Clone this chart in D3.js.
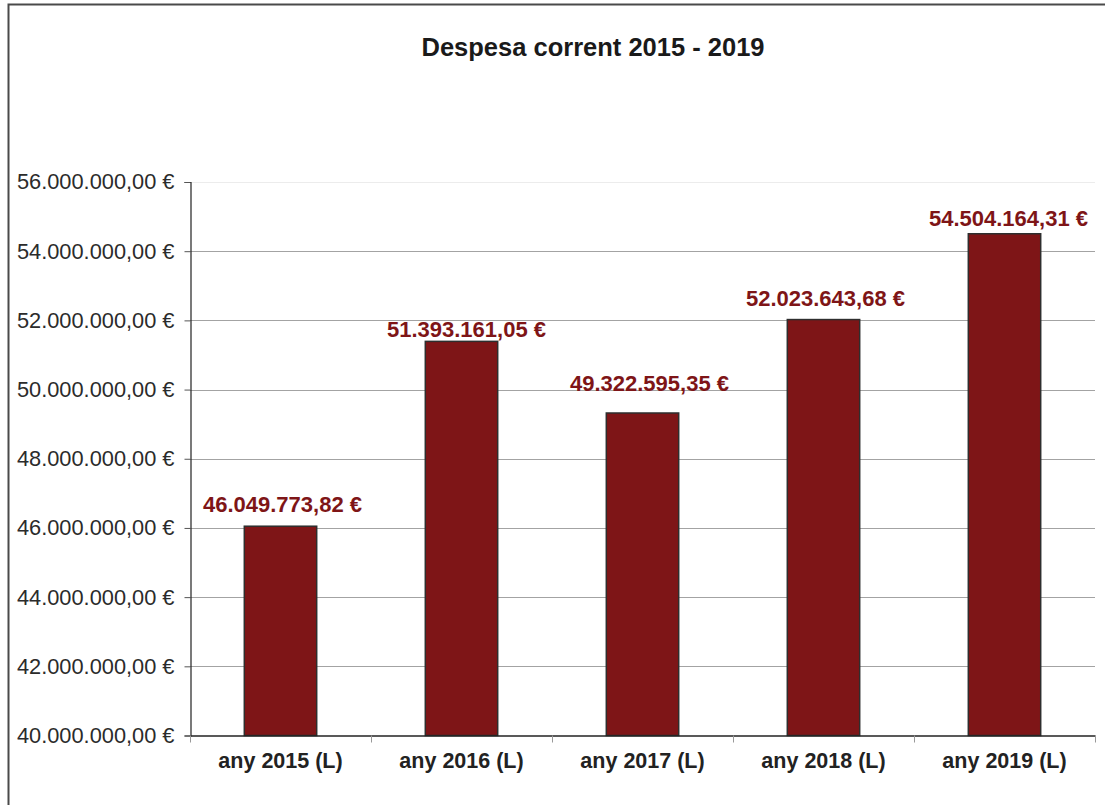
<!DOCTYPE html>
<html>
<head>
<meta charset="utf-8">
<script src="https://cdn.jsdelivr.net/npm/d3@7/dist/d3.min.js"></script>
<style>
  html, body { margin: 0; padding: 0; background: #fff; }
  svg { display: block; font-family: "Liberation Sans", Arial, sans-serif; }
</style>
</head>
<body>
<svg id="chart" width="1105" height="805"></svg>
<script>
// ---- data ----
const title = "Despesa corrent 2015 - 2019";
const categories = ["any 2015 (L)", "any 2016 (L)", "any 2017 (L)", "any 2018 (L)", "any 2019 (L)"];
const values = [46049773.82, 51393161.05, 49322595.35, 52023643.68, 54504164.31];
const yTicks = [40000000, 42000000, 44000000, 46000000, 48000000, 50000000, 52000000, 54000000, 56000000];
// small manual nudges of the value labels (as placed in the original chart)
const labelLift = [14, 4, 22, 14, 8];
const labelShift = [2, 5, 7, 2, 4];

// ---- layout ----
const svg = d3.select("#chart");
const plotLeft = 190, plotRight = 1095, plotTop = 182, plotBottom = 735.5;

const x = d3.scaleBand().domain(categories).range([plotLeft, plotRight]).padding(0);
const y = d3.scaleLinear().domain([40000000, 56000000]).range([plotBottom, plotTop]);

function fmtEuro(v) {
  const parts = v.toFixed(2).split(".");
  const intPart = parts[0].replace(/\B(?=(\d{3})+(?!\d))/g, ".");
  return intPart + "," + parts[1] + " €";
}

// outer frame
svg.append("rect")
  .attr("x", 8.5).attr("y", 4.5)
  .attr("width", 1110).attr("height", 820)
  .attr("fill", "none").attr("stroke", "#4a4a4a").attr("stroke-width", 2);

// title
svg.append("text")
  .attr("x", 593).attr("y", 56)
  .attr("text-anchor", "middle")
  .attr("font-size", 25.5).attr("font-weight", "bold").attr("fill", "#1a1a1a")
  .text(title);

// gridlines
svg.append("g").selectAll("line")
  .data(yTicks.filter(t => t > 40000000))
  .join("line")
  .attr("x1", plotLeft).attr("x2", plotRight)
  .attr("y1", d => Math.round(y(d)) + 0.5).attr("y2", d => Math.round(y(d)) + 0.5)
  .attr("stroke", d => d === 56000000 ? "#ececec" : "#a3a3a3")
  .attr("stroke-width", 1);

// y axis
const yAxis = d3.axisLeft(y).tickValues(yTicks).tickSize(6).tickPadding(10).tickFormat(fmtEuro);
const gy = svg.append("g").attr("transform", `translate(${plotLeft + 0.5},0)`).call(yAxis);
gy.select(".domain").attr("stroke", "#222").attr("stroke-width", 1.2);
gy.selectAll(".tick line").attr("stroke", "#555");
gy.selectAll(".tick text")
  .attr("font-size", 21.8).attr("fill", "#2b2b2b")
  .attr("font-family", "'Liberation Sans', Arial, sans-serif");

// bars
const barW = x.bandwidth() * 0.4;
svg.append("g").selectAll("rect")
  .data(categories)
  .join("rect")
  .attr("x", (d) => x(d) + (x.bandwidth() - barW) / 2)
  .attr("y", (d, i) => y(values[i]))
  .attr("width", barW)
  .attr("height", (d, i) => y(40000000) - y(values[i]))
  .attr("fill", "#7e1517")
  .attr("stroke", "#2e2e2e")
  .attr("stroke-width", 1.5);

// x axis
const xAxis = d3.axisBottom(x).tickSize(0).tickPadding(13);
const gx = svg.append("g").attr("transform", `translate(0,${plotBottom})`).call(xAxis);
gx.select(".domain").attr("stroke", "#222").attr("stroke-width", 1.5);
gx.selectAll(".tick text")
  .attr("font-size", 21.5).attr("font-weight", "bold").attr("fill", "#222")
  .attr("dy", "0.9em")
  .attr("font-family", "'Liberation Sans', Arial, sans-serif");
// category separator ticks
const bounds = categories.map(c => x(c)).concat([x(categories[categories.length - 1]) + x.bandwidth()]);
gx.append("g").selectAll("line")
  .data(bounds)
  .join("line")
  .attr("x1", d => Math.round(d) + 0.5).attr("x2", d => Math.round(d) + 0.5)
  .attr("y1", 0).attr("y2", 7)
  .attr("stroke", "#999").attr("stroke-width", 1);

// value labels
svg.append("g").selectAll("text")
  .data(categories)
  .join("text")
  .attr("x", (d, i) => x(d) + x.bandwidth() / 2 + labelShift[i])
  .attr("y", (d, i) => y(values[i]) - labelLift[i])
  .attr("text-anchor", "middle")
  .attr("font-size", 22).attr("font-weight", "bold").attr("fill", "#7e1517")
  .text((d, i) => fmtEuro(values[i]));
</script>
</body>
</html>
